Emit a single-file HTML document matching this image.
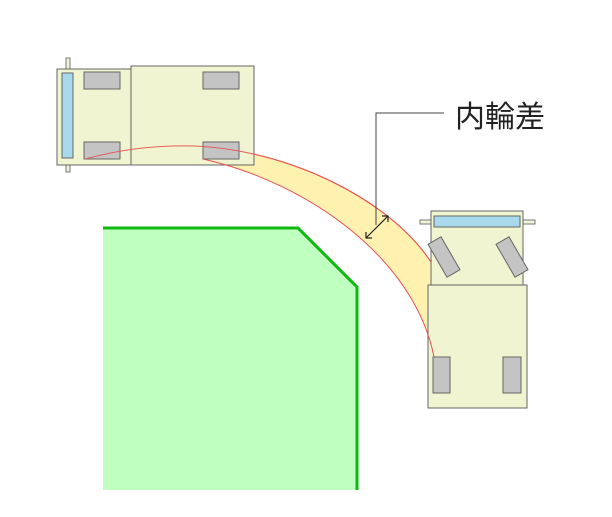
<!DOCTYPE html>
<html><head><meta charset="utf-8"><style>body{margin:0;background:#fff}</style></head>
<body>
<svg width="612" height="512" viewBox="0 0 612 512" xmlns="http://www.w3.org/2000/svg">
<polygon points="103,227 298,227 357,287 357,490 103,490" fill="#bfffbf"/>
<polyline points="103,228 298,228 357,287 357,490" fill="none" stroke="#10b810" stroke-width="3"/>
<path d="M85,159 C120,150 150,145 195,146 C290,150 390,200 431,262 L431,357 L434,357 C415,260 310,183 203,159 Z" fill="#fff2b0"/>
<path d="M85,159 C120,150 150,145 195,146 C290,150 390,200 431,262" fill="none" stroke="#e85050" stroke-width="1"/>
<rect x="66" y="58" width="4" height="114" fill="#f0f4d8" stroke="#777"/>
<rect x="57" y="69" width="76" height="96" fill="#f0f4d0" stroke="#666"/>
<rect x="62" y="73" width="11" height="85" fill="#a8d8ec" stroke="#666"/>
<rect x="84" y="72" width="36" height="17" fill="#c4c4c4" stroke="#666"/>
<rect x="84" y="142" width="36" height="17" fill="#c4c4c4" stroke="#666"/>
<rect x="131" y="66" width="123" height="99" fill="#f0f4d0" stroke="#666"/>
<rect x="203" y="72" width="36" height="17" fill="#c4c4c4" stroke="#666"/>
<rect x="203" y="142" width="36" height="17" fill="#c4c4c4" stroke="#666"/>
<path d="M85,159 C120,150 150,145 195,146 C290,150 390,200 431,262" fill="none" stroke="#e85050" stroke-width="1" opacity="0.9"/>
<rect x="420" y="220" width="115" height="4" fill="#f0f4d8" stroke="#777"/>
<rect x="431" y="211" width="92" height="74" fill="#f0f4d0" stroke="#666"/>
<rect x="434" y="216" width="86" height="11" fill="#a8d8ec" stroke="#666"/>
<rect x="-7.5" y="-19" width="15" height="38" fill="#c4c4c4" stroke="#666" transform="translate(444,257) rotate(-30)"/>
<rect x="-7.5" y="-19" width="15" height="38" fill="#c4c4c4" stroke="#666" transform="translate(512,257) rotate(-30)"/>
<rect x="428" y="285" width="99" height="123" fill="#f0f4d0" stroke="#666"/>
<rect x="433" y="357" width="17" height="36" fill="#c4c4c4" stroke="#666"/>
<rect x="503" y="357" width="18" height="36" fill="#c4c4c4" stroke="#666"/>
<path d="M203,159 C310,183 415,260 434,357" fill="none" stroke="#e85050" stroke-width="1"/>
<polyline points="444,113 376,113 376,225" fill="none" stroke="#444" stroke-width="1"/>
<line x1="366" y1="238" x2="388" y2="216" stroke="#222" stroke-width="1.2"/>
<polyline points="366,232 366,238 372,238" fill="none" stroke="#222" stroke-width="1.2"/>
<polyline points="382,216 388,216 388,222" fill="none" stroke="#222" stroke-width="1.2"/>
<text x="455" y="127" font-family="Liberation Sans, Noto Sans CJK JP, sans-serif" font-size="30" fill="#222">内輪差</text>
</svg>
</body></html>
